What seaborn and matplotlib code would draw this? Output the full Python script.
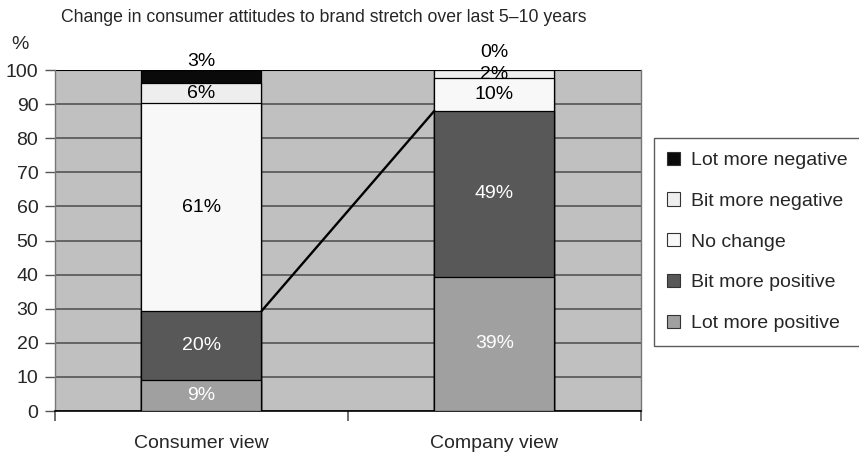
import numpy as np
import pandas as pd
import matplotlib
matplotlib.use('Agg')
import matplotlib.pyplot as plt
from matplotlib.patches import Patch
import seaborn as sns

# data (segment heights, bottom to top)
views = ["Consumer view", "Company view"]
segments = ["Lot more positive", "Bit more positive", "No change",
            "Bit more negative", "Lot more negative"]
consumer = [9.2, 20.1, 61.0, 5.8, 3.9]
company = [39.3, 48.7, 9.6, 2.3, 0.1]
consumer_labels = ["9%", "20%", "61%", "6%", "3%"]
company_labels = ["39%", "49%", "10%", "2%", "0%"]
colors = ["#a0a0a0", "#585858", "#f8f8f8", "#eeeeee", "#0a0a0a"]
text_colors = ["white", "white", "black", "black", "black"]

sns.set_theme(style="white")
plt.rcParams['font.family'] = ['Liberation Sans', 'DejaVu Sans']

df = pd.DataFrame({"view": np.repeat(views, len(segments)),
                   "segment": segments * 2,
                   "value": consumer + company})
df["cum"] = df.groupby("view")["value"].cumsum()

fig = plt.figure(figsize=(8.59, 4.63), dpi=100)
ax = fig.add_axes([0.064, 0.1123, 0.682, 0.7365])
ax.set_facecolor("#c0c0c0")

# stacked bars: draw cumulative totals from the top layer down
for seg, col in reversed(list(zip(segments, colors))):
    sub = df[df["segment"] == seg]
    sns.barplot(data=sub, x="view", y="cum", color=col, width=0.41,
                edgecolor="black", linewidth=0.9, saturation=1, ax=ax,
                order=views, zorder=3)

# value labels
for i, (vals, labs) in enumerate([(consumer, consumer_labels), (company, company_labels)]):
    cum = np.cumsum(vals)
    for j, (v, lab) in enumerate(zip(vals, labs)):
        if j == len(vals) - 1:
            y = 102.5 if i == 0 else 105.0
        else:
            y = cum[j] - v / 2
        ax.text(i, y, lab, ha="center", va="center", fontsize=14,
                color=text_colors[j], zorder=5, clip_on=False)

# connector between bit-more-positive tops
c_top = consumer[0] + consumer[1]
k_top = company[0] + company[1]
ax.plot([0 + 0.205, 1 - 0.205], [c_top, k_top], color="black", lw=1.7, zorder=4)

ax.set_xlim(-0.5, 1.5)
ax.set_ylim(0, 100)
ax.set_yticks(range(0, 101, 10))
ax.yaxis.grid(True, color="#555555", lw=1.2, zorder=1)
ax.set_axisbelow(True)
ax.axhline(100, color="black", lw=1.5, zorder=2)
ax.tick_params(axis="y", left=True, length=7, width=1, color="#555555",
               labelsize=14, pad=5)
ax.set_xticks([0, 1])
ax.set_xticklabels(views, fontsize=14)
ax.tick_params(axis="x", bottom=True, length=0, pad=17)
ax.set_xticks([-0.5, 0.5, 1.5], minor=True)
ax.tick_params(axis="x", which="minor", bottom=True, length=7, width=1.2, color="#555555")
ax.set_xlabel("")
ax.set_ylabel("")
for s in ["left", "right"]:
    ax.spines[s].set_color("#777777")
    ax.spines[s].set_linewidth(1)
ax.spines["top"].set_visible(False)
ax.spines["bottom"].set_color("black")
ax.spines["bottom"].set_linewidth(1.2)

fig.text(0.013, 0.903, "%", fontsize=14, ha="left", va="center")
fig.text(0.071, 0.963, "Change in consumer attitudes to brand stretch over last 5\u201310 years",
         fontsize=12.7, ha="left", va="center")

handles = [Patch(facecolor=c, edgecolor="#333333", linewidth=0.8, label=s)
           for s, c in reversed(list(zip(segments, colors)))]
leg = fig.legend(handles=handles, loc="upper left", bbox_to_anchor=(0.761, 0.702),
                 frameon=True, fancybox=False, fontsize=14, labelspacing=1.2,
                 handlelength=0.67, handleheight=0.67, handletextpad=0.57,
                 borderpad=0.7, borderaxespad=0)
leg.get_frame().set_edgecolor("#333333")
leg.get_frame().set_linewidth(1.0)

fig.savefig("out.png", dpi=100)
